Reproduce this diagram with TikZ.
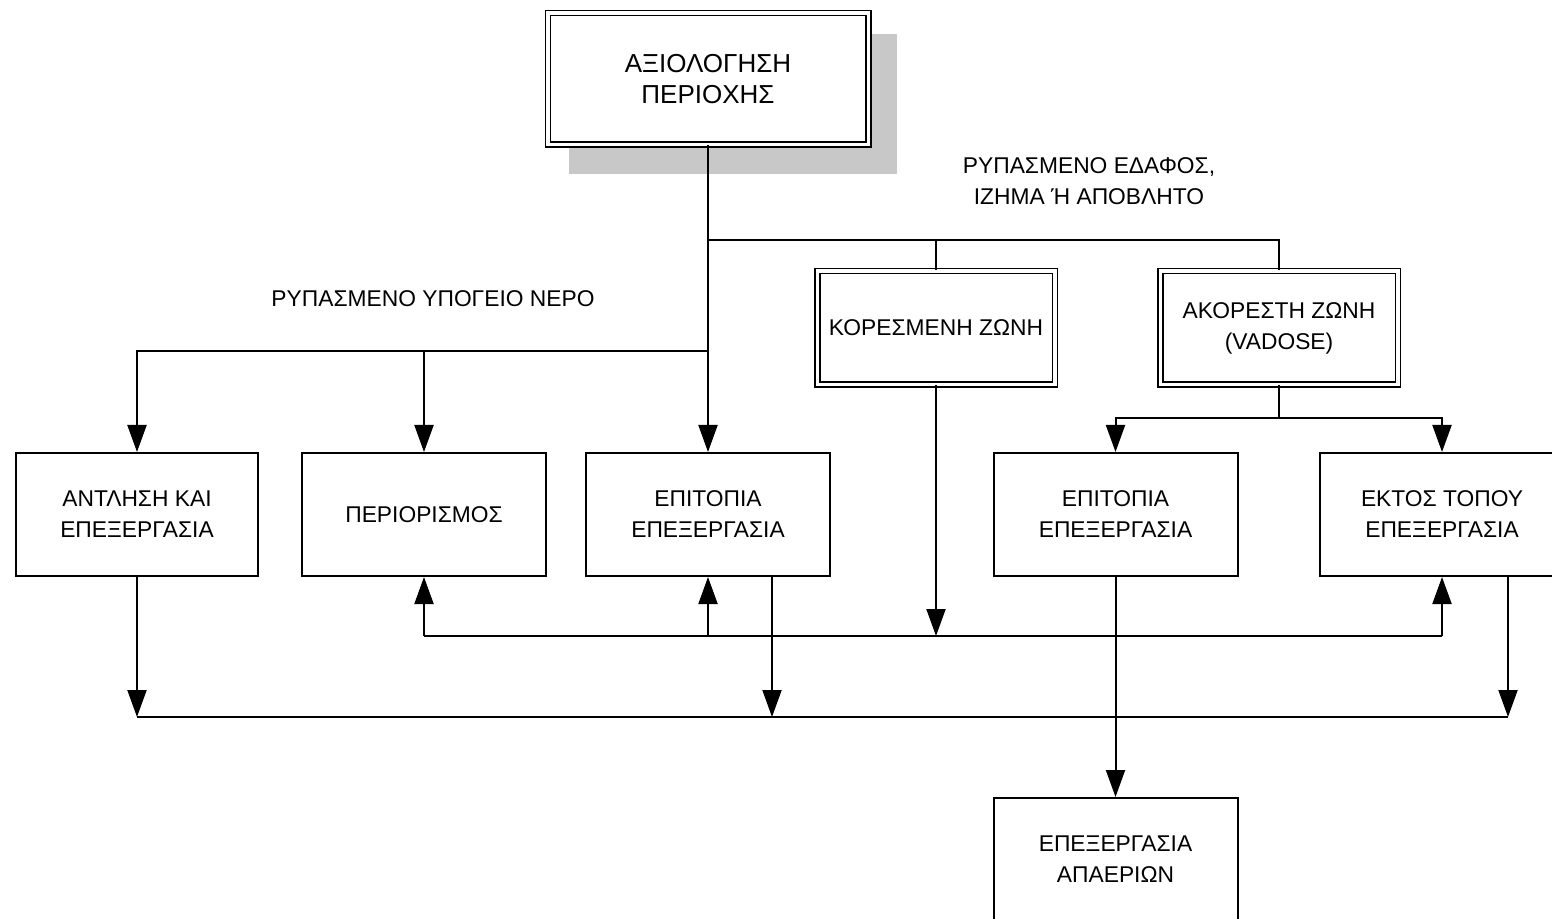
\documentclass[tikz,border=0pt]{standalone}
\usepackage{fontspec}
\setmainfont{Liberation Sans}
\usetikzlibrary{arrows.meta}
\definecolor{shadowgray}{RGB}{200,200,200}
\begin{document}
\begin{tikzpicture}[x=0.5pt,y=-0.5pt,
  txt/.style={font=\fontsize{11.4pt}{15.5pt}\selectfont,align=center},
  box/.style={txt,draw,line width=1pt,fill=white,minimum width=122pt,minimum height=61.5pt,inner sep=0pt},
  dbox/.style={txt,draw,line width=0.75pt,double,double distance=1.75pt,fill=white,inner sep=0pt},
  conn/.style={line width=1pt},
  arr/.style={conn,-{Triangle[length=13.5pt,width=9.5pt]}},
]
\useasboundingbox (0,0) rectangle (1552,919);
\clip (0,0) rectangle (1552,919);
% shadow of the top box
\fill[shadowgray] (569,34) rectangle (897,174);
% boxes
\node[dbox,minimum width=160.25pt,minimum height=65.75pt,font=\fontsize{13pt}{15.5pt}\selectfont] (top) at (708,79) {ΑΞΙΟΛΟΓΗΣΗ\\ΠΕΡΙΟΧΗΣ};
\node[dbox,minimum width=118.75pt,minimum height=56.75pt] (kop) at (936,328) {ΚΟΡΕΣΜΕΝΗ ΖΩΝΗ};
\node[dbox,minimum width=118.75pt,minimum height=56.75pt] (akop) at (1279,328) {ΑΚΟΡΕΣΤΗ ΖΩΝΗ\\(VADOSE)};
\node[box,minimum width=121pt] (antl) at (137,514.5) {ΑΝΤΛΗΣΗ ΚΑΙ\\ΕΠΕΞΕΡΓΑΣΙΑ};
\node[box] (peri) at (424,514.5) {ΠΕΡΙΟΡΙΣΜΟΣ};
\node[box] (epit1) at (708,514.5) {ΕΠΙΤΟΠΙΑ\\ΕΠΕΞΕΡΓΑΣΙΑ};
\node[box] (epit2) at (1115.5,514.5) {ΕΠΙΤΟΠΙΑ\\ΕΠΕΞΕΡΓΑΣΙΑ};
\node[box] (ektos) at (1442,514.5) {ΕΚΤΟΣ ΤΟΠΟΥ\\ΕΠΕΞΕΡΓΑΣΙΑ};
\node[box] (gas) at (1115.5,859.5) {ΕΠΕΞΕΡΓΑΣΙΑ\\ΑΠΑΕΡΙΩΝ};
% labels
\node[txt] (lblw) at (433,299) {ΡΥΠΑΣΜΕΝΟ ΥΠΟΓΕΙΟ ΝΕΡΟ};
\node[txt] (lbls) at (1089,181) {ΡΥΠΑΣΜΕΝΟ ΕΔΑΦΟΣ,\\ΙΖΗΜΑ Ή ΑΠΟΒΛΗΤΟ};
% junction coordinates
\coordinate (j1) at (708,240);
\coordinate (j2) at (708,351);
\coordinate (j3) at (1279,418);
\coordinate (j4) at (936,636);
\coordinate (j5) at (772,717);
% connectors
\draw[arr] (top.south) -- (epit1.north);
\draw[conn] (j1) -| (kop.north);
\draw[conn] (j1) -| (akop.north);
\draw[arr] (j2) -| (antl.north);
\draw[arr] (j2) -| (peri.north);
\draw[conn] (akop.south) -- (j3);
\draw[arr] (j3) -| (epit2.north);
\draw[arr] (j3) -| (ektos.north);
\draw[arr] (kop.south) -- (j4);
\draw[conn] (peri.south |- j4) -- (ektos.south |- j4);
\draw[arr] (peri.south |- j4) -- (peri.south);
\draw[arr] (epit1.south |- j4) -- (epit1.south);
\draw[arr] (ektos.south |- j4) -- (ektos.south);
\coordinate (e1) at ([xshift=32pt]epit1.south);
\coordinate (e2) at ([xshift=33pt]ektos.south);
\draw[conn] (antl.south |- j5) -- (e2 |- j5);
\draw[arr] (antl.south) -- (antl.south |- j5);
\draw[arr] (e1) -- (e1 |- j5);
\draw[arr] (e2) -- (e2 |- j5);
\draw[arr] (epit2.south) -- (gas.north);
\end{tikzpicture}
\end{document}
